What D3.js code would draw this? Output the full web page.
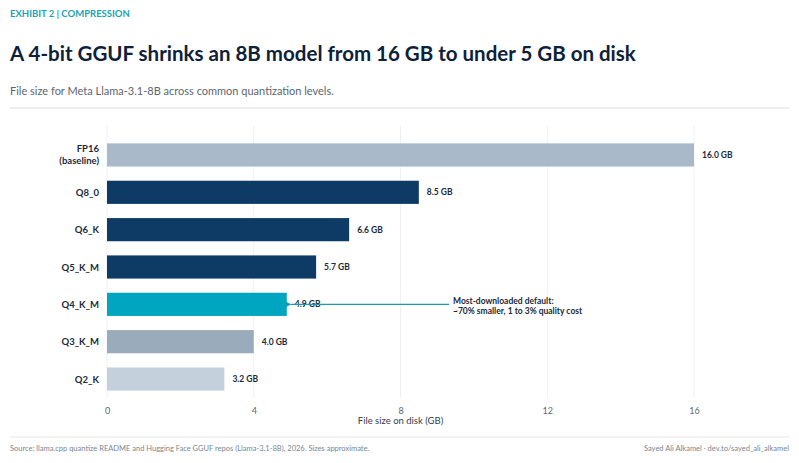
<!DOCTYPE html>
<html><head><meta charset="utf-8">
<script src="https://cdn.jsdelivr.net/npm/d3@7"></script>
<style>body{margin:0;background:#fff}svg{font-family:Lato,"Noto Sans",sans-serif}</style>
</head><body><svg id="chart"></svg>
<script>
const categories = ["FP16\n(baseline)", "Q8_0", "Q6_K", "Q5_K_M", "Q4_K_M", "Q3_K_M", "Q2_K"];
const sizes = [16.0, 8.5, 6.6, 5.7, 4.9, 4.0, 3.2];
const barColors = ["#a9b9c9", "#0e3a66", "#0e3a66", "#0e3a66", "#00a5c0", "#9aabbb", "#c4d1dc"];
const xTicks = [0, 4, 8, 12, 16];

const W = 799, H = 463;
const svg = d3.select("#chart").attr("width", W).attr("height", H);

svg.append("text").attr("x", 10).attr("y", 17).attr("fill", "#1aa3b8")
  .attr("font-size", 9.5).attr("font-weight", 700).text("EXHIBIT 2  |  COMPRESSION");
svg.append("text").attr("x", 10).attr("y", 61).attr("fill", "#0d2238")
  .attr("font-size", 20.5).attr("font-weight", 700)
  .text("A 4-bit GGUF shrinks an 8B model from 16 GB to under 5 GB on disk");
svg.append("text").attr("x", 10).attr("y", 95).attr("fill", "#5b6672")
  .attr("font-size", 11).text("File size for Meta Llama-3.1-8B across common quantization levels.");
svg.append("line").attr("x1", 10).attr("x2", 789).attr("y1", 108).attr("y2", 108).attr("stroke", "#d8dde2");
svg.append("line").attr("x1", 10).attr("x2", 789).attr("y1", 437).attr("y2", 437).attr("stroke", "#e3e7ea");

const x = d3.scaleLinear().domain([0, 16]).range([107, 694]);
const y = d3.scaleBand().domain(categories).range([136.3, 397.7]).paddingInner(0.38).paddingOuter(0.19);

svg.append("g").selectAll("line").data(xTicks).join("line")
  .attr("x1", d => x(d)).attr("x2", d => x(d)).attr("y1", 126).attr("y2", 398)
  .attr("stroke", "#eef0f2");

const axis = svg.append("g").attr("transform", "translate(0,398)")
  .call(d3.axisBottom(x).tickValues(xTicks).tickSize(0).tickPadding(10));
axis.select(".domain").remove();
axis.selectAll("text").attr("font-size", 9).attr("fill", "#5b6672").attr("font-family", "Lato");
svg.append("text").attr("x", x(8)).attr("y", 424).attr("text-anchor", "middle")
  .attr("font-size", 9.5).attr("fill", "#333d47").text("File size on disk (GB)");

svg.append("g").selectAll("rect").data(sizes).join("rect")
  .attr("x", x(0)).attr("y", (d, i) => y(categories[i]))
  .attr("width", d => x(d) - x(0)).attr("height", y.bandwidth())
  .attr("fill", (d, i) => barColors[i]);

svg.append("g").selectAll("text").data(sizes).join("text")
  .attr("x", d => x(d) + 8).attr("y", (d, i) => y(categories[i]) + y.bandwidth() / 2 + 3)
  .attr("font-size", 8.5).attr("font-weight", 700).attr("fill", "#1b2a3a")
  .text(d => d.toFixed(1) + " GB");

const labels = svg.append("g").selectAll("text").data(categories).join("text")
  .attr("text-anchor", "end").attr("font-size", 9.5).attr("font-weight", 700).attr("fill", "#1b2a3a")
  .attr("x", 99);
labels.each(function (d) {
  const parts = d.split("\n");
  const cy = y(d) + y.bandwidth() / 2;
  const t = d3.select(this);
  parts.forEach((p, j) => t.append("tspan").attr("x", 99)
    .attr("y", cy + 3.5 + (j - (parts.length - 1) / 2) * 12).text(p));
});

// annotation
const ai = 4, ay = y(categories[ai]) + y.bandwidth() / 2;
svg.append("defs").append("marker").attr("id", "arr").attr("viewBox", "0 0 10 10")
  .attr("refX", 1).attr("refY", 5).attr("markerWidth", 5).attr("markerHeight", 5).attr("orient", "auto")
  .append("path").attr("d", "M10,0L0,5L10,10z").attr("fill", "#1a9bb2");
svg.append("line").attr("x1", 449).attr("x2", x(sizes[ai]) + 4).attr("y1", ay).attr("y2", ay)
  .attr("stroke", "#1a9bb2").attr("stroke-width", 1.2).attr("marker-end", "url(#arr)");
const ann = svg.append("text").attr("font-size", 8.5).attr("font-weight", 700).attr("fill", "#1b2a3a");
ann.append("tspan").attr("x", 453).attr("y", ay).text("Most-downloaded default:");
ann.append("tspan").attr("x", 453).attr("y", ay + 10).text("~70% smaller, 1 to 3% quality cost");

svg.append("text").attr("x", 10).attr("y", 451).attr("font-size", 7.5).attr("fill", "#7b858f")
  .text("Source: llama.cpp quantize README and Hugging Face GGUF repos (Llama-3.1-8B), 2026. Sizes approximate.");
svg.append("text").attr("x", 789).attr("y", 451).attr("text-anchor", "end").attr("font-size", 7.5).attr("fill", "#7b858f")
  .text("Sayed Ali Alkamel · dev.to/sayed_ali_alkamel");
</script></body></html>
